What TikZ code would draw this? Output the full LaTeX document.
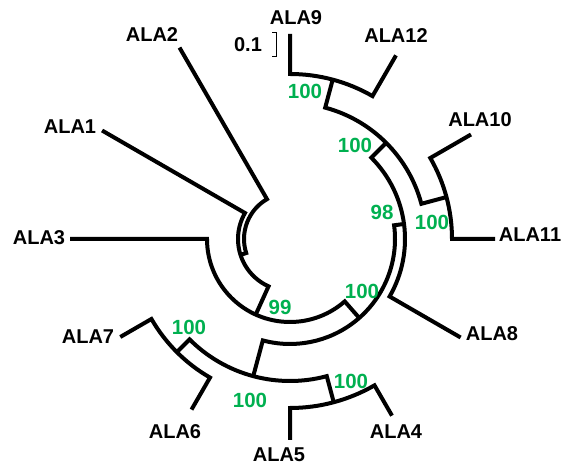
\documentclass[tikz,border=0pt]{standalone}
\usepackage{fontspec}
\setmainfont{Liberation Sans}
\definecolor{bootgreen}{RGB}{0,176,80}
\begin{document}
\begin{tikzpicture}[x=1pt,y=1pt,
  br/.style={line width=4, line join=miter, black},
  leaflab/.style={inner sep=0, font=\bfseries\fontsize{20}{20}\selectfont},
  boot/.style={inner sep=0, text=bootgreen, font=\bfseries\fontsize{20.5}{20.5}\selectfont}]
\path[use as bounding box] (0,0) rectangle (565,468);
\begin{scope}[shift={(290,229)}]
  % leaf tips
  \coordinate (tip9)  at (90:205);
  \coordinate (tip12) at (60:212);
  \coordinate (tip10) at (30:209);
  \coordinate (tip11) at (0:205);
  \coordinate (tip8)  at (-30:197);
  \coordinate (tip4)  at (-60:204);
  \coordinate (tip5)  at (-90:201);
  \coordinate (tip6)  at (-120:197);
  \coordinate (tip7)  at (-150:196);
  \coordinate (tip3)  at (180:220);
  \coordinate (tip1)  at (150:217);
  \coordinate (tip2)  at (120:221);
  % internal nodes
  \coordinate (n912)  at (75:165);
  \coordinate (n1011) at (15:162);
  \coordinate (nX)    at (45:136);
  \coordinate (nY)    at (7.5:115);
  \coordinate (n45)   at (-75:169);
  \coordinate (n67)   at (-135:160);
  \coordinate (nV)    at (-105:142);
  \coordinate (nZ)    at (-48.75:105);
  \coordinate (nW)    at (245.6:83);
  \coordinate (nU)    at (197.8:52);
  % clades
  \draw[br] (tip9) -- (90:165) arc[start angle=90, end angle=60, radius=165] -- (tip12);
  \draw[br] (tip10) -- (30:162) arc[start angle=30, end angle=0, radius=162] -- (tip11);
  \draw[br] (n912) -- (75:136) arc[start angle=75, end angle=15, radius=136] -- (n1011);
  \draw[br] (nX) -- (45:115) arc[start angle=45, end angle=-30, radius=115] -- (tip8);
  \draw[br] (tip4) -- (-60:169) arc[start angle=-60, end angle=-90, radius=169] -- (tip5);
  \draw[br] (tip6) -- (-120:160) arc[start angle=-120, end angle=-150, radius=160] -- (tip7);
  \draw[br] (n45) -- (-75:142) arc[start angle=-75, end angle=-135, radius=142] -- (n67);
  \draw[br] (nY) -- (7.5:105) arc[start angle=7.5, end angle=-105, radius=105] -- (nV);
  \draw[br] (tip3) -- (180:83) arc[start angle=180, end angle=311.25, radius=83] -- (nZ);
  \draw[br] (tip1) -- (150:52) arc[start angle=150, end angle=245.6, radius=52] -- (nW);
  \draw[br] (tip2) -- (120:46) arc[start angle=120, end angle=197.8, radius=46] -- (nU);
\end{scope}
% leaf labels
\node[leaflab] (l9)  at (296,450) {ALA9};
\node[leaflab] (l12) at (396,432) {ALA12};
\node[leaflab] (l10) at (480,348) {ALA10};
\node[leaflab] (l11) at (530,233) {ALA11};
\node[leaflab] (l8)  at (492,134) {ALA8};
\node[leaflab] (l4)  at (396,36)  {ALA4};
\node[leaflab] (l5)  at (279,13)  {ALA5};
\node[leaflab] (l6)  at (175,36)  {ALA6};
\node[leaflab] (l7)  at (88,131)  {ALA7};
\node[leaflab] (l3)  at (39,230)  {ALA3};
\node[leaflab] (l1)  at (70,341)  {ALA1};
\node[leaflab] (l2)  at (152,433) {ALA2};
% scale bar
\node[leaflab] (sc) at (248,423) {0.1};
\coordinate (sbtop) at (276,436);
\coordinate (sbbot) at (276,412);
\draw[line width=0.9] ([xshift=-4]sbtop) -- (sbtop) -- (sbbot) -- ([xshift=-4]sbbot);
% bootstrap values
\node[boot] (b1) at (305,377) {100};
\node[boot] (b2) at (355,323) {100};
\node[boot] (b3) at (432,246) {100};
\node[boot] (b4) at (382,256) {98};
\node[boot] (b5) at (362,177) {100};
\node[boot] (b6) at (280,161) {99};
\node[boot] (b7) at (189,141) {100};
\node[boot] (b8) at (250,68)  {100};
\node[boot] (b9) at (351,87)  {100};
\end{tikzpicture}
\end{document}
